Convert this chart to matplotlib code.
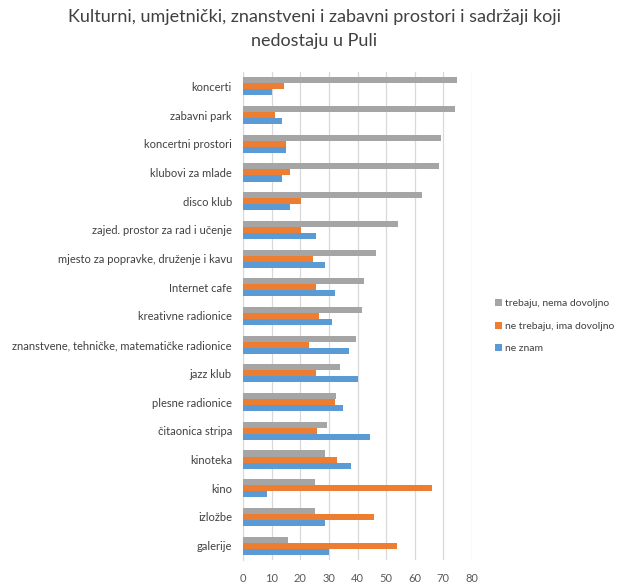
import matplotlib
matplotlib.use("Agg")
import matplotlib.pyplot as plt
import numpy as np

plt.rcParams['font.family'] = ['Lato', 'DejaVu Sans']

categories = ["koncerti", "zabavni park", "koncertni prostori", "klubovi za mlade", "disco klub",
              "zajed. prostor za rad i učenje", "mjesto za popravke, druženje i kavu", "Internet cafe",
              "kreativne radionice", "znanstvene, tehničke, matematičke radionice", "jazz klub",
              "plesne radionice", "čitaonica stripa", "kinoteka", "kino", "izložbe", "galerije"]
trebaju = [74.7, 74.2, 69.1, 68.6, 62.5, 54.0, 46.5, 42.3, 41.4, 39.6, 33.9, 32.5, 29.2, 28.7, 25.0, 25.0, 15.6]
ne_trebaju = [14.2, 11.3, 15.0, 16.4, 20.2, 20.2, 24.4, 25.4, 26.7, 23.0, 25.4, 32.1, 25.9, 33.0, 66.2, 45.7, 53.7]
ne_znam = [10.3, 13.7, 15.0, 13.7, 16.4, 25.4, 28.7, 32.1, 31.0, 37.2, 40.0, 34.8, 44.3, 37.6, 8.5, 28.7, 30.1]
series_names = ["trebaju, nema dovoljno", "ne trebaju, ima dovoljno", "ne znam"]
xticks = [0, 10, 20, 30, 40, 50, 60, 70, 80]

colors = ["#A5A5A5", "#ED7D31", "#5B9BD5"]

fig = plt.figure(figsize=(6.29, 5.85), dpi=100)
ax = fig.add_axes([243/629, 1-560/585, (472-243)/629, (560-72)/585])

n = len(categories)
y = np.arange(n)
h = 0.21
for i, (vals, c, name) in enumerate(zip([trebaju, ne_trebaju, ne_znam], colors, series_names)):
    ax.barh(y + (i - 1) * h, vals, height=h, color=c, label=name, zorder=3)

ax.set_ylim(n - 0.5, -0.5)
ax.set_xlim(0, 80)
ax.set_xticks(xticks)
ax.set_xticklabels([str(t) for t in xticks], fontsize=8, color="#595959")
ax.set_yticks(y)
ax.set_yticklabels(categories, fontsize=8, color="#404040")
ax.tick_params(length=0, pad=8)
ax.tick_params(axis='x', pad=9)
for s in ["top", "right", "bottom"]:
    ax.spines[s].set_visible(False)
ax.spines["left"].set_color("#D9D9D9")
ax.xaxis.grid(True, color="#D9D9D9", linewidth=0.9, zorder=0)
ax.set_axisbelow(True)

fig.text(0.5, 1-9/585, "Kulturni, umjetnički, znanstveni i zabavni prostori i sadržaji koji\nnedostaju u Puli",
         ha="center", va="top", fontsize=13, color="#404040", linespacing=1.65)

leg = fig.legend(loc="upper left", bbox_to_anchor=(486/629, 1-290/585), frameon=False, fontsize=7.5,
                 handlelength=0.6, handleheight=0.6, handletextpad=0.3, labelspacing=1.3)
for t in leg.get_texts():
    t.set_color("#404040")

fig.savefig("out.png", dpi=100, facecolor="white")
